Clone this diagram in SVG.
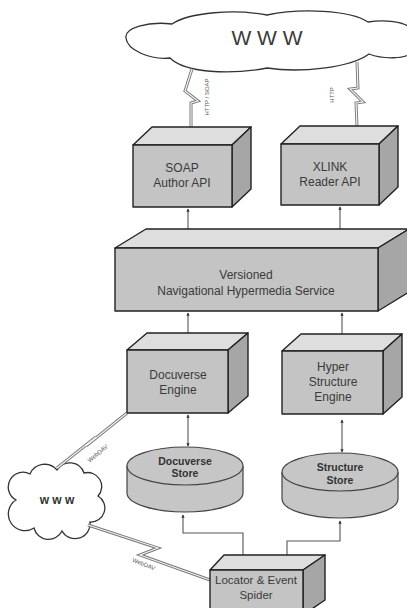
<svg xmlns="http://www.w3.org/2000/svg" width="407" height="608" viewBox="0 0 407 608">
<style>
.front{fill:#c4c4c4;stroke:#222;stroke-width:1.4;stroke-linejoin:round}
.top{fill:#dedede;stroke:#222;stroke-width:1.4;stroke-linejoin:round}
.side{fill:#a6a6a6;stroke:#222;stroke-width:1.4;stroke-linejoin:round}
.cyl{fill:#c6c6c6;stroke:#444;stroke-width:1.2}
.lbl{font-family:"Liberation Sans",Arial,sans-serif;font-size:12px;fill:#3a3a3a;text-anchor:middle}
.blbl{font-family:"Liberation Sans",Arial,sans-serif;font-size:10.5px;font-weight:bold;fill:#333;text-anchor:middle}
.tiny{font-family:"Liberation Sans",Arial,sans-serif;font-size:6px;fill:#555;text-anchor:middle}
.cloud{fill:#fff;stroke:#333;stroke-width:1.3}
.conn{fill:none;stroke:#555;stroke-width:1.1}
.bolt-o{fill:none;stroke:#777;stroke-width:3;stroke-linejoin:miter}
.bolt-i{fill:none;stroke:#f2f2f2;stroke-width:1.2;stroke-linejoin:miter}
</style>
<defs>
<marker id="ah" viewBox="0 0 6 6" refX="5" refY="3" markerWidth="3" markerHeight="3" orient="auto-start-reverse">
<path d="M0,0 L6,3 L0,6 z" fill="#333"/>
</marker>
</defs>

<g id="cloud-top">
<path class="cloud" d="M126,38 C124,28 148,21 172,24 C190,12 235,9 267,15 C300,8 350,10 368,22 C385,19 405,22 410,28 L410,54 C405,58 385,60 369,54 C350,68 300,73 267,68 C230,75 185,73 170,58 C150,60 127,50 126,38 Z"/>
<text class="lbl" x="267" y="45" style="font-size:21px">W W W</text>
</g>

<g id="cloud-small">
<path class="cloud" d="M16,500 A14,14 0 0 1 30,474 A16,16 0 0 1 57,470 A15,15 0 0 1 84,473 A14,14 0 0 1 98,496 A14,14 0 0 1 90,522 A15,15 0 0 1 62,531 A15,15 0 0 1 34,528 A14,14 0 0 1 16,500 Z"/>
<text class="blbl" x="57" y="504" style="font-size:12px">w w w</text>
</g>

<g id="connectors">
<line class="conn" x1="188" y1="209" x2="188" y2="246" marker-start="url(#ah)" marker-end="url(#ah)"/>
<line class="conn" x1="340" y1="207" x2="340" y2="246" marker-start="url(#ah)" marker-end="url(#ah)"/>
<line class="conn" x1="188" y1="313" x2="188" y2="337" marker-start="url(#ah)" marker-end="url(#ah)"/>
<line class="conn" x1="342" y1="313" x2="342" y2="338" marker-start="url(#ah)" marker-end="url(#ah)"/>
<line class="conn" x1="188" y1="415" x2="188" y2="446" marker-start="url(#ah)" marker-end="url(#ah)"/>
<line class="conn" x1="342" y1="420" x2="342" y2="452" marker-start="url(#ah)" marker-end="url(#ah)"/>
<polyline class="conn" points="243,556 243,533 183,533 183,515" marker-end="url(#ah)"/>
<polyline class="conn" points="287,558 287,541 340,541 340,521" marker-end="url(#ah)"/>

<path class="bolt-o" d="M192,69 L185,91 L198,101 L191,103 L191,127"/>
<path class="bolt-i" d="M192,69 L185,91 L198,101 L191,103 L191,127"/>
<path class="bolt-o" d="M357,62 L358,88 L350,89 L363,102 L356,103 L357,126"/>
<path class="bolt-i" d="M357,62 L358,88 L350,89 L363,102 L356,103 L357,126"/>
<path class="bolt-o" d="M57,468 L96,437 L86,446 L127,413"/>
<path class="bolt-i" d="M57,468 L96,437 L86,446 L127,413"/>
<path class="bolt-o" d="M88,525 L158,548 L140,555 L210,580"/>
<path class="bolt-i" d="M88,525 L158,548 L140,555 L210,580"/>

<text class="tiny" transform="translate(209,97) rotate(-90)">HTTP / SOAP</text>
<text class="tiny" transform="translate(334,95) rotate(-90)">HTTP</text>
<text class="tiny" transform="translate(99,455) rotate(-40)">WebDAV</text>
<text class="tiny" transform="translate(143,566) rotate(22)">WebDAV</text>
</g>

<g id="soap">
<polygon class="top" points="133,145 152,127 251,127 232,145"/>
<polygon class="side" points="232,145 251,127 251,189 232,207"/>
<rect class="front" x="133" y="145" width="99" height="62"/>
<text class="lbl" x="182" y="172">SOAP</text>
<text class="lbl" x="182" y="187">Author API</text>
</g>

<g id="xlink">
<polygon class="top" points="281,144 300,126 398,126 379,144"/>
<polygon class="side" points="379,144 398,126 398,187 379,205"/>
<rect class="front" x="281" y="144" width="98" height="61"/>
<text class="lbl" x="330" y="171">XLINK</text>
<text class="lbl" x="330" y="186">Reader API</text>
</g>

<g id="versioned">
<polygon class="top" points="115,248 146,229 409,229 378,248"/>
<polygon class="side" points="378,248 409,229 409,292 378,311"/>
<rect class="front" x="115" y="248" width="263" height="63"/>
<text class="lbl" x="246" y="279">Versioned</text>
<text class="lbl" x="246" y="295">Navigational Hypermedia Service</text>
</g>

<g id="docuverse-engine">
<polygon class="top" points="127,350 147,333 248,333 228,350"/>
<polygon class="side" points="228,350 248,333 248,396 228,413"/>
<rect class="front" x="127" y="350" width="101" height="63"/>
<text class="lbl" x="178" y="379">Docuverse</text>
<text class="lbl" x="178" y="394">Engine</text>
</g>

<g id="hyper-engine">
<polygon class="top" points="282,351 301,334 402,334 383,351"/>
<polygon class="side" points="383,351 402,334 402,397 383,414"/>
<rect class="front" x="282" y="351" width="101" height="63"/>
<text class="lbl" x="333" y="371">Hyper</text>
<text class="lbl" x="333" y="386">Structure</text>
<text class="lbl" x="333" y="401">Engine</text>
</g>

<g id="docuverse-store">
<path class="cyl" d="M127,466 L127,493 A58,19 0 0 0 243,493 L243,466"/>
<ellipse class="cyl" cx="185" cy="466" rx="58" ry="19"/>
<text class="blbl" x="185" y="465">Docuverse</text>
<text class="blbl" x="185" y="477">Store</text>
</g>

<g id="structure-store">
<path class="cyl" d="M282,472 L282,499 A58,19 0 0 0 398,499 L398,472"/>
<ellipse class="cyl" cx="340" cy="472" rx="58" ry="19"/>
<text class="blbl" x="340" y="471">Structure</text>
<text class="blbl" x="340" y="484">Store</text>
</g>

<g id="locator">
<polygon class="top" points="210,570 224,555 325,555 303,570"/>
<polygon class="side" points="303,570 325,555 325,600 303,615"/>
<rect class="front" x="210" y="570" width="93" height="45"/>
<text class="lbl" x="256" y="584" style="font-size:11.5px">Locator &amp; Event</text>
<text class="lbl" x="256" y="599" style="font-size:11.5px">Spider</text>
</g>
</svg>
